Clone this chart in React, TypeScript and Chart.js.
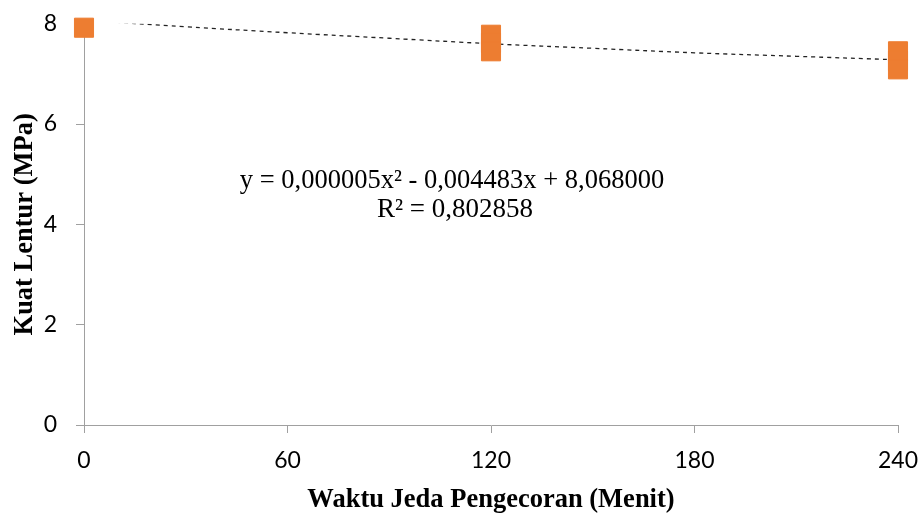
import React, { useEffect, useRef } from "react";
import { Chart, registerables } from "chart.js";

Chart.register(...registerables);

// Data
const xTicks = [0, 60, 120, 180, 240];
const yTicks = [0, 2, 4, 6, 8];
const sampleX = [0, 120, 120, 120, 240, 240, 240];
const sampleY = [7.92, 7.78, 7.62, 7.45, 7.45, 7.26, 7.09];
const trendX = [0, 30, 60, 90, 120, 150, 180, 210, 240];
const trendY = [8.07, 7.94, 7.82, 7.71, 7.6, 7.51, 7.42, 7.35, 7.28];
const equationLine1 = "y = 0,000005x² - 0,004483x + 8,068000";
const equationLine2 = "R² = 0,802858";
const xTitle = "Waktu Jeda Pengecoran (Menit)";
const yTitle = "Kuat Lentur (MPa)";

const ORANGE = "#ED7D31";
const AXIS = "#A0A0A0";
const TICK_FONT = { family: "Lato", size: 23 };
const TITLE_FONT = { family: "'Liberation Serif', 'Times New Roman', serif", size: 26.5, weight: "bold" as const };

const equationPlugin = {
  id: "equationText",
  afterDatasetsDraw(chart: any) {
    const ctx = chart.ctx;
    const area = chart.chartArea;
    ctx.save();
    ctx.fillStyle = "#000";
    ctx.font = "26.5px 'Liberation Serif', 'Times New Roman', serif";
    ctx.textAlign = "center";
    ctx.textBaseline = "alphabetic";
    ctx.fillText(equationLine1, area.left + 368, area.top + 164);
    ctx.font = "27px 'Liberation Serif', 'Times New Roman', serif";
    ctx.fillText(equationLine2, area.left + 371, area.top + 193);
    ctx.restore();
  },
};

export default function App() {
  const canvasRef = useRef<HTMLCanvasElement | null>(null);

  useEffect(() => {
    const canvas = canvasRef.current;
    if (!canvas) return;
    const chart = new Chart(canvas, {
      type: "scatter",
      data: {
        datasets: [
          {
            type: "line",
            label: "Trend",
            data: trendX.map((x, i) => ({ x, y: trendY[i] })),
            borderColor: "#222",
            borderWidth: 1.3,
            borderDash: [4, 4],
            pointRadius: 0,
            tension: 0.4,
            fill: false,
            order: 2,
          },
          {
            type: "scatter",
            label: "Kuat Lentur",
            data: sampleX.map((x, i) => ({ x, y: sampleY[i] })),
            pointStyle: "rect",
            pointRadius: 13.5,
            pointHoverRadius: 13.5,
            backgroundColor: ORANGE,
            borderColor: ORANGE,
            borderWidth: 1,
            clip: false as any,
            order: 1,
          },
        ],
      },
      options: {
        responsive: false,
        animation: false,
        devicePixelRatio: 1,
        layout: { padding: { left: 0, right: 24, top: 23.7, bottom: 0 } },
        plugins: {
          legend: { display: false },
          tooltip: { enabled: false },
          title: { display: false },
        },
        scales: {
          x: {
            type: "linear",
            min: 0,
            max: 240,
            afterFit(scale: any) {
              scale.height = 88;
              scale.paddingLeft = 0;
              scale.paddingRight = 0;
            },
            afterBuildTicks(scale: any) {
              scale.ticks = xTicks.map((v) => ({ value: v }));
            },
            ticks: {
              color: "#000",
              font: TICK_FONT,
              padding: 14,
              maxRotation: 0,
              autoSkip: false,
            },
            grid: {
              display: true,
              drawOnChartArea: false,
              drawTicks: true,
              tickLength: 8,
              color: AXIS,
              lineWidth: 1,
            },
            border: { display: true, color: AXIS, width: 1 },
            title: {
              display: true,
              text: xTitle,
              color: "#000",
              font: TITLE_FONT,
              padding: { top: 0, bottom: -3 },
            },
          },
          y: {
            type: "linear",
            min: 0,
            max: 8,
            afterFit(scale: any) {
              scale.width = 84;
              scale.paddingTop = 0;
              scale.paddingBottom = 0;
            },
            afterBuildTicks(scale: any) {
              scale.ticks = yTicks.map((v) => ({ value: v }));
            },
            ticks: {
              color: "#000",
              font: TICK_FONT,
              padding: 19,
              autoSkip: false,
            },
            grid: {
              display: true,
              drawOnChartArea: false,
              drawTicks: true,
              tickLength: 8,
              color: AXIS,
              lineWidth: 1,
            },
            border: { display: true, color: AXIS, width: 1 },
            title: {
              display: true,
              text: yTitle,
              color: "#000",
              font: TITLE_FONT,
              padding: { top: 9, bottom: 0 },
            },
          },
        },
      },
      plugins: [equationPlugin],
    } as any);
    return () => chart.destroy();
  }, []);

  return (
    <div style={{ position: "fixed", left: 0, top: 0, width: 922, height: 513, background: "#fff" }}>
      <canvas ref={canvasRef} width={922} height={513} style={{ width: 922, height: 513, display: "block" }} />
    </div>
  );
}
